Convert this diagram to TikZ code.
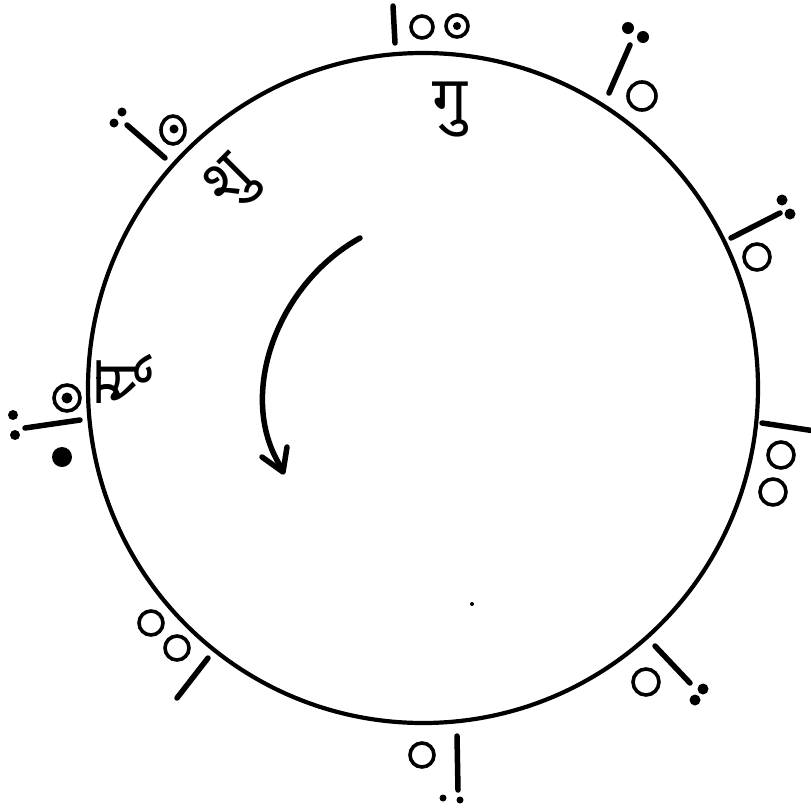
\documentclass[tikz,border=0pt]{standalone}
\usepackage{fontspec}
\newfontfamily\deva[Script=Devanagari]{Noto Sans}
\tikzset{
  rim/.style={line width=4.2pt},
  tickmark/.style={line width=5.5pt, line cap=round},
  ring/.style={line width=3.6pt},
  lbl/.style={font=\deva\bfseries\fontsize{62}{62}\selectfont, inner sep=0pt},
  arr/.style={line width=5.5pt, line cap=round, line join=round}
}
\begin{document}
\begin{tikzpicture}[x=1pt,y=-1pt]
\useasboundingbox[fill=white] (0,0) rectangle (811,809);
% main circle
\draw[rim] (423,388) circle (335);
% top
\draw[tickmark] (393,6) -- (395,43);
\draw[ring] (422,27) circle (11);
\draw[ring] (457,26) circle (11);
\fill (457,26) circle (4);
% upper right
\fill (628,28) circle (6);
\fill (643,37) circle (6);
\draw[tickmark] (630,45) -- (609,93);
\draw[ring] (642,96) circle (14);
% right upper
\fill (782,200) circle (5.5);
\fill (790,214) circle (5.5);
\draw[tickmark] (731,238) -- (780,213);
\draw[ring] (757,257) circle (13);
% right
\draw[tickmark] (762,423) -- (815,431);
\draw[ring] (781,455) circle (13);
\draw[ring] (773,492) circle (13);
% lower right
\draw[tickmark] (655,646) -- (690,683);
\fill (703,689) circle (5.5);
\fill (695,700) circle (5.5);
\draw[ring] (646,682) circle (13);
% bottom
\draw[ring] (422,755) circle (12);
\draw[tickmark] (457,736) -- (458,790);
\fill (443,798) circle (3.5);
\fill (460,800) circle (3.5);
% lower left
\draw[ring] (151,623) circle (12);
\draw[ring] (177,648) circle (12);
\draw[tickmark] (208,658) -- (177,698);
% left
\draw[ring] (67,398) circle (13);
\fill (67,398) circle (5.5);
\draw[tickmark] (25,428) -- (80,420);
\fill (13,415) circle (5);
\fill (15,435) circle (5);
\fill (62,457) circle (10);
% upper left
\fill (122,112) circle (4.5);
\fill (114,123) circle (4.5);
\draw[tickmark] (127,125) -- (165,158);
\draw[ring] (173,130) ellipse (12 and 14);
\fill (174,129) circle (4.5);
% speck
\fill (472,604) circle (2);
% labels
\node[lbl] (ltop) at (450,110) {गु};
\node[lbl, rotate=45] (lul) at (232,185) {शु};
\node[lbl, rotate=90] (lleft) at (125,383) {सू};
% arrow
\draw[arr] (360,238) .. controls (275,285) and (235,400) .. (283,470);
\draw[arr] (262,457) -- (283,472) -- (287,447);
\end{tikzpicture}
\end{document}
